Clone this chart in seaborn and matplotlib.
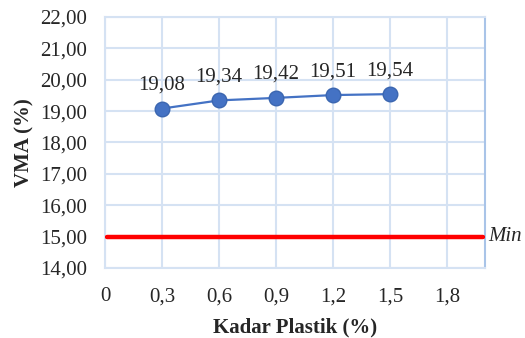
import matplotlib
matplotlib.use("Agg")
import matplotlib.pyplot as plt
import pandas as pd
import seaborn as sns

kadar = [0.3, 0.6, 0.9, 1.2, 1.5]
vma = [19.08, 19.34, 19.42, 19.51, 19.54]
min_x = [0.01, 1.99]
min_y = [15, 15]
x_ticks = [0, 0.3, 0.6, 0.9, 1.2, 1.5, 1.8]
y_ticks = [14, 15, 16, 17, 18, 19, 20, 21, 22]


def fmt(v, nd):
    return f"{v:.{nd}f}".replace(".", ",")


def main():
    sns.set_style("white")
    plt.rcParams['font.family'] = ['Liberation Serif', 'DejaVu Serif']
    df = pd.DataFrame({'Kadar': kadar, 'VMA': vma})
    lim = pd.DataFrame({'x': min_x, 'y': min_y})

    fig, ax = plt.subplots(figsize=(5.25, 3.38), dpi=100)
    fig.subplots_adjust(left=0.2, right=0.924, top=0.95, bottom=0.207)

    grid_c = '#d5e2f3'
    fs = 15
    sns.lineplot(data=lim, x='x', y='y', color='#ff0000', linewidth=3.2, ax=ax, zorder=3)
    sns.lineplot(data=df, x='Kadar', y='VMA', color='#4472c4', linewidth=1.6,
                 marker='o', markersize=10.5, markerfacecolor='#4472c4',
                 markeredgecolor='#3b66b0', markeredgewidth=1, ax=ax, zorder=4)

    for x, y in zip(kadar, vma):
        ax.annotate(fmt(y, 2), (x, y), xytext=(0, 10), textcoords='offset points',
                    ha='center', va='bottom', fontsize=fs)

    ax.text(2.015, 15, 'Min', style='italic', fontsize=fs, va='center', ha='left')

    ax.set_xlim(0, 2.0)
    ax.set_ylim(14, 22)
    ax.set_xticks(x_ticks)
    ax.set_xticklabels(['0'] + [fmt(v, 1) for v in x_ticks[1:]], fontsize=fs)
    ax.set_yticks(y_ticks)
    ax.set_yticklabels([fmt(v, 2) for v in y_ticks], fontsize=fs)
    ax.tick_params(axis='x', pad=14, length=0)
    ax.tick_params(axis='y', pad=13, length=0)
    ax.grid(True, color=grid_c, linewidth=1.5)
    ax.set_axisbelow(True)
    for s in ax.spines.values():
        s.set_color(grid_c)
        s.set_linewidth(1.5)
    ax.spines['right'].set_color('#a9c4e8')

    ax.set_xlabel('Kadar Plastik (%)', fontsize=fs, fontweight='bold', labelpad=8)
    ax.set_ylabel('VMA (%)', fontsize=fs, fontweight='bold', labelpad=4)

    plt.savefig('out.png', dpi=100)


if __name__ == "__main__":
    main()
